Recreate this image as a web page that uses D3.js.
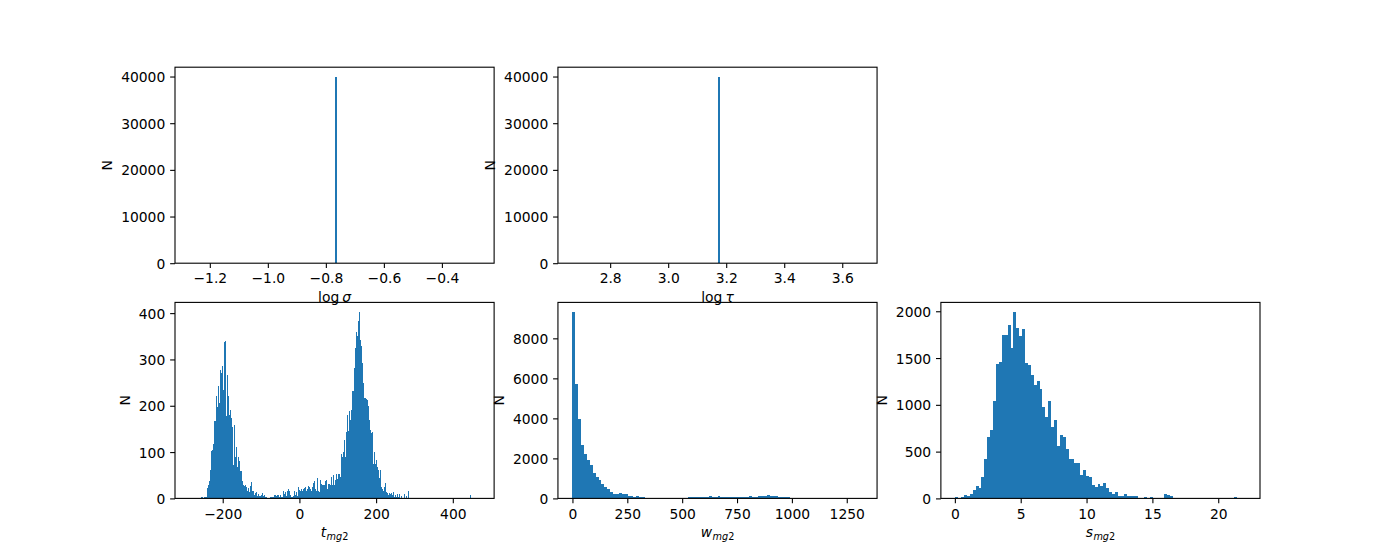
<!DOCTYPE html>
<html><head><meta charset="utf-8">
<script src="https://cdn.jsdelivr.net/npm/d3@7"></script>
<style>
body{margin:0;background:#fff}
svg{display:block}
text{font-family:"DejaVu Sans",sans-serif;fill:#000}
</style>
</head><body>
<svg id="c" width="1400" height="560"></svg>
<script>
// ---------------- DATA ----------------
// log sigma: all samples in a single bin (hist range v±0.5)
const sigmaRange = [-1.27, -0.27];
const sigmaBinEdges = [-0.77, -0.763];
const sigmaCounts = [40000];
const sigmaXTicks = [-1.2, -1.0, -0.8, -0.6, -0.4];
const sigmaXTickLabels = ["−1.2", "−1.0", "−0.8", "−0.6", "−0.4"];

// log tau
const tauRange = [2.67, 3.67];
const tauBinEdges = [3.17, 3.177];
const tauCounts = [40000];
const tauXTicks = [2.8, 3.0, 3.2, 3.4, 3.6];
const tauXTickLabels = ["2.8", "3.0", "3.2", "3.4", "3.6"];

const topYTicks = [0, 10000, 20000, 30000, 40000];
const topYTickLabels = ["0", "10000", "20000", "30000", "40000"];

// t_mg2: 290 equal bins between tMin and tMax
const tRange = [-286.6, 469.9];
const tCounts = [
1,
0,0,0,0,0,0,0,0,0,0,
4,4,0,2,2,3,
22,28,37,62,103,104,117,167,167,220,198,243,206,278,270,285,235,338,339,177,
267,220,180,191,174,155,72,159,90,112,68,90,80,59,59,37,29,27,29,24,
16,22,13,27,35,16,16,8,12,14,6,9,6,6,8,12,6,8,
4,4,0,0,0,4,4,4,3,8,8,6,8,8,4,8,3,3,17,10,13,6,17,20,16,8,4,4,6,16,
8,14,6,25,19,17,20,17,20,23,25,16,21,27,25,20,16,25,33,37,20,15,45,17,14,
39,32,28,28,28,38,39,20,31,32,
30,46,30,50,28,39,52,41,52,52,46,96,90,100,126,90,144,180,145,188,
170,191,231,231,282,325,359,350,383,403,343,329,293,250,217,216,215,213,200,170,
148,141,144,75,100,75,83,68,61,43,61,25,21,17,25,33,14,12,7,12,
10,12,7,14,4,7,3,9,4,9,0,6,0,0,9,0,6,0,17,0,
0,0,0,0,0,0,0,0,0,0,0,0,0,0,0,0,0,0,0,0,
0,0,0,0,0,0,0,0,0,0,0,0,0,0,0,0,0,0,0,0,
0,0,0,0,0,0,0,0,0,0,0,0,0,0,0,0,0,0,0,0,
7,
0,0,0,0,0,0,0,0,
1
];
const tXTicks = [-200, 0, 200, 400];
const tXTickLabels = ["−200", "0", "200", "400"];
const tYTicks = [0, 100, 200, 300, 400];
const tYTickLabels = ["0", "100", "200", "300", "400"];

// w_mg2: 100 bins
const wRange = [0, 1322];
const wCounts = [
9330,5730,3970,2670,2200,1900,1670,1270,1070,900,
720,570,450,300,230,200,250,200,200,130,
100,80,130,50,45,40,40,35,35,30,
30,30,28,28,28,30,30,30,32,35,
85,85,85,85,85,85,85,135,85,85,
135,85,50,60,85,85,85,50,85,85,
85,115,90,70,115,115,110,185,100,135,
130,85,50,50,50,0,0,0,0,0,
0,0,0,0,0,0,0,0,0,0,
0,0,0,0,0,0,0,0,0,1
];
const wXTicks = [0, 250, 500, 750, 1000, 1250];
const wXTickLabels = ["0", "250", "500", "750", "1000", "1250"];
const wYTicks = [0, 2000, 4000, 6000, 8000];
const wYTickLabels = ["0", "2000", "4000", "6000", "8000"];

// s_mg2: 100 bins
const sRange = [0.04, 22.07];
const sCounts = [
14,0,11,32,25,43,86,128,114,225,
424,660,727,1037,1433,1458,1743,1750,1850,1608,
1995,1826,1733,1815,1451,1430,1316,1216,1259,1166,
977,870,1037,763,834,560,681,652,524,417,
417,374,374,246,300,242,228,139,125,157,
132,164,111,68,46,68,25,25,43,25,
25,25,25,0,0,14,0,14,0,0,
0,0,43,32,21,0,0,0,0,0,
0,0,0,0,0,0,0,0,0,0,
0,0,0,0,0,0,14,0,0,1
];
const sXTicks = [0, 5, 10, 15, 20];
const sXTickLabels = ["0", "5", "10", "15", "20"];
const sYTicks = [0, 500, 1000, 1500, 2000];
const sYTickLabels = ["0", "500", "1000", "1500", "2000"];

// ---------------- DRAWING ----------------
const W = 1400, H = 560;
const FS = 13.89;                 // 10pt @ 100 dpi
const TICK = 4.86, PAD = 4.86, LPAD = 5.56, LW = 1.1;
const BLUE = "#1f77b4";

const svg = d3.select("#c");
svg.append("rect").attr("width", W).attr("height", H).attr("fill", "#fff");

const L = 0.125 * W, R = 0.9 * W, T = (1 - 0.88) * H, B = (1 - 0.11) * H;
const pw = (R - L) / (3 + 2 * 0.2), ph = (B - T) / (2 + 0.2);
function cell(r, c) { return { x: L + c * pw * 1.2, y: T + r * ph * 1.2, w: pw, h: ph }; }

function uniformBins(range, counts) {
  const n = counts.length, bw = (range[1] - range[0]) / n;
  return counts.map((c, i) => ({ x0: range[0] + i * bw, x1: range[0] + (i + 1) * bw, c }));
}
function edgeBins(edges, counts) {
  return counts.map((c, i) => ({ x0: edges[i], x1: edges[i + 1], c }));
}

function panel(box, o) {
  const g = svg.append("g");
  const span = o.range[1] - o.range[0];
  const x = d3.scaleLinear().domain([o.range[0] - 0.05 * span, o.range[1] + 0.05 * span]).range([box.x, box.x + box.w]);
  const yMax = d3.max(o.bins, d => d.c) * 1.05;
  const y = d3.scaleLinear().domain([0, yMax]).range([box.y + box.h, box.y]);

  // snap bar edges to whole pixels so adjacent bars tile without seams
  const sx = v => Math.round(x(v));
  g.append("g").attr("shape-rendering", "crispEdges")
    .selectAll("rect").data(o.bins.filter(d => d.c > 0)).join("rect")
    .attr("x", d => sx(d.x0)).attr("width", d => Math.max(1, sx(d.x1) - sx(d.x0)))
    .attr("y", d => y(d.c)).attr("height", d => y(0) - y(d.c))
    .attr("fill", BLUE);

  // axes via d3 axis generators
  const xa = d3.axisBottom(x).tickValues(o.xTicks).tickFormat((d, i) => o.xTickLabels[i])
    .tickSizeInner(TICK).tickSizeOuter(0).tickPadding(PAD);
  const ya = d3.axisLeft(y).tickValues(o.yTicks).tickFormat((d, i) => o.yTickLabels[i])
    .tickSizeInner(TICK).tickSizeOuter(0).tickPadding(PAD);
  const gx = g.append("g").attr("transform", `translate(0,${box.y + box.h})`).call(xa);
  const gy = g.append("g").attr("transform", `translate(${box.x},0)`).call(ya);
  [gx, gy].forEach(a => {
    a.select(".domain").remove();
    a.selectAll(".tick line").attr("stroke", "#000").attr("stroke-width", LW);
    a.selectAll(".tick text").attr("font-family", "DejaVu Sans").attr("font-size", FS).attr("fill", "#000");
  });
  gx.selectAll(".tick text").attr("dy", null).attr("y", TICK + PAD + 10.4);
  gy.selectAll(".tick text").attr("dy", null).attr("dominant-baseline", null).attr("y", 5.05);

  // spines
  g.append("rect").attr("x", box.x).attr("y", box.y).attr("width", box.w).attr("height", box.h)
    .attr("fill", "none").attr("stroke", "#000").attr("stroke-width", LW);

  // y label
  let maxW = 0;
  gy.selectAll(".tick text").each(function () { maxW = Math.max(maxW, this.getComputedTextLength()); });
  const ylx = box.x - TICK - PAD - maxW - LPAD - 3.2;
  g.append("text").attr("transform", `translate(${ylx},${box.y + box.h / 2}) rotate(-90)`)
    .attr("text-anchor", "middle").attr("font-size", FS).text(o.ylabel);

  // x label
  const xl = g.append("text").attr("x", box.x + box.w / 2).attr("y", box.y + box.h + 38.5)
    .attr("text-anchor", "middle").attr("font-size", FS);
  o.xlabel.forEach(p => {
    const ts = xl.append("tspan").text(p.t);
    if (p.it) ts.attr("font-style", "italic");
    if (p.fs) ts.attr("font-size", p.fs);
    if (p.dy) ts.attr("dy", p.dy);
    if (p.dx) ts.attr("dx", p.dx);
  });
}

const SUB = FS * 0.7;
function subLabel(v) {
  return [{ t: v, it: true }, { t: "mg", it: true, fs: SUB, dy: 3, dx: 0.5 }, { t: "2", fs: SUB }];
}

panel(cell(0, 0), {
  range: sigmaRange, bins: edgeBins(sigmaBinEdges, sigmaCounts),
  xTicks: sigmaXTicks, xTickLabels: sigmaXTickLabels, yTicks: topYTicks, yTickLabels: topYTickLabels,
  ylabel: "N", xlabel: [{ t: "log" }, { t: "σ", it: true, dx: 3 }]
});
panel(cell(0, 1), {
  range: tauRange, bins: edgeBins(tauBinEdges, tauCounts),
  xTicks: tauXTicks, xTickLabels: tauXTickLabels, yTicks: topYTicks, yTickLabels: topYTickLabels,
  ylabel: "N", xlabel: [{ t: "log" }, { t: "τ", it: true, dx: 3 }]
});
panel(cell(1, 0), {
  range: tRange, bins: uniformBins(tRange, tCounts),
  xTicks: tXTicks, xTickLabels: tXTickLabels, yTicks: tYTicks, yTickLabels: tYTickLabels,
  ylabel: "N", xlabel: subLabel("t")
});
panel(cell(1, 1), {
  range: wRange, bins: uniformBins(wRange, wCounts),
  xTicks: wXTicks, xTickLabels: wXTickLabels, yTicks: wYTicks, yTickLabels: wYTickLabels,
  ylabel: "N", xlabel: subLabel("w")
});
panel(cell(1, 2), {
  range: sRange, bins: uniformBins(sRange, sCounts),
  xTicks: sXTicks, xTickLabels: sXTickLabels, yTicks: sYTicks, yTickLabels: sYTickLabels,
  ylabel: "N", xlabel: subLabel("s")
});
</script>
</body></html>
